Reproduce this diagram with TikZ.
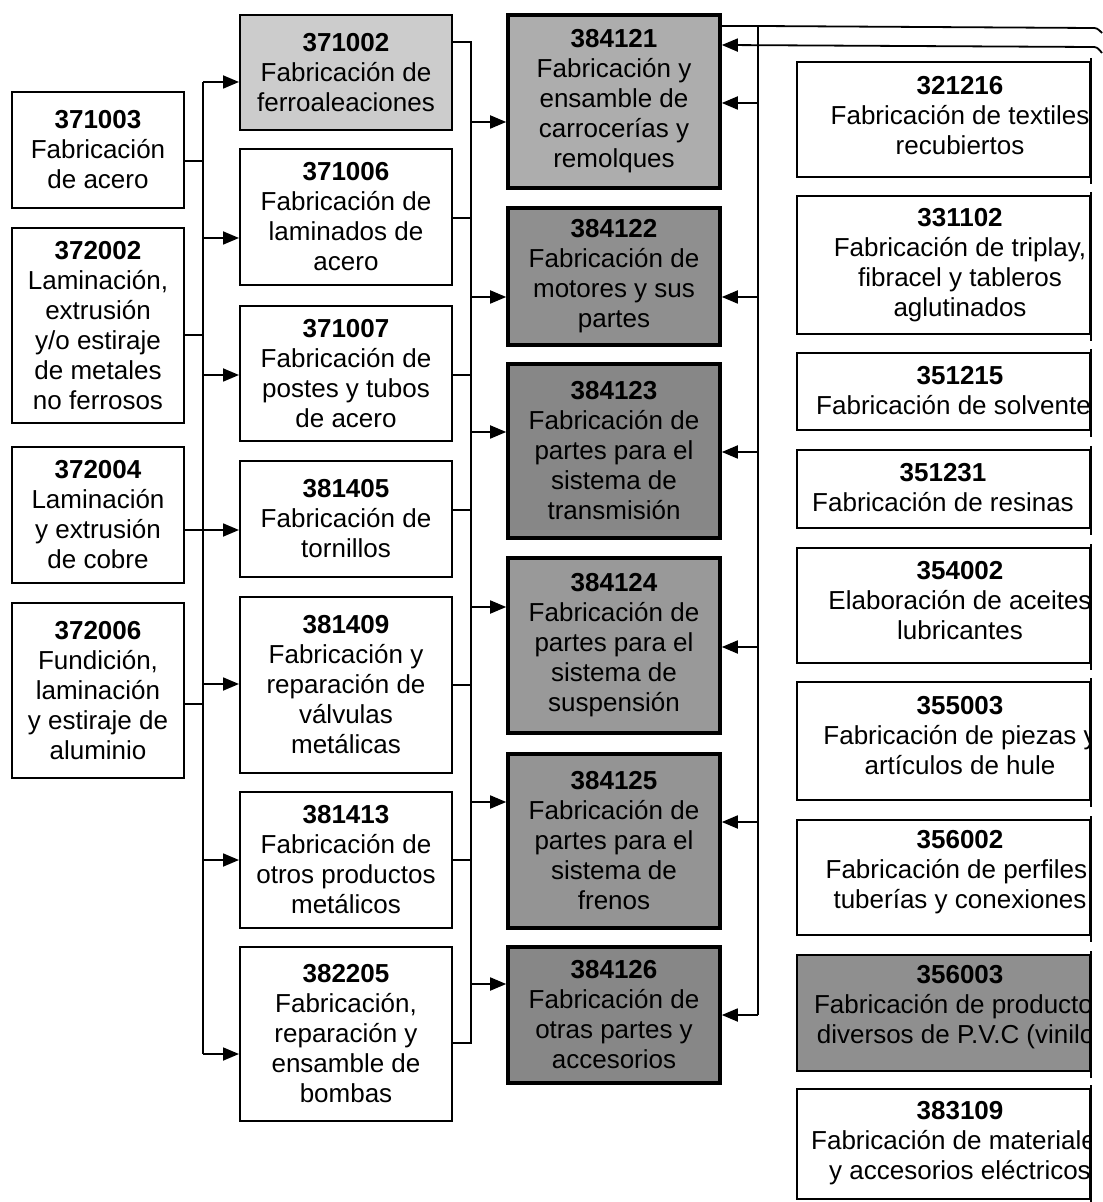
\documentclass[tikz,border=0pt]{standalone}
\usepackage{fontspec}
\setmainfont{Liberation Sans}
\usetikzlibrary{arrows.meta}
\definecolor{g0}{gray}{0.80}
\definecolor{g1}{gray}{0.68}
\definecolor{g2}{gray}{0.56}
\definecolor{g3}{gray}{0.53}
\definecolor{g4}{gray}{0.60}
\definecolor{g5}{gray}{0.58}
\definecolor{g6}{gray}{0.53}
\definecolor{g7}{gray}{0.56}
\newcommand\bx[7]{%
  \node[#6, minimum width={(#4-#2)*0.5pt}, minimum height={(#5-#3)*0.5pt}]
    (#1) at ({(#2+#4)/2},{(#3+#5)/2}) {#7};}
\begin{document}
\begin{tikzpicture}[x=0.5pt,y=-0.5pt,
  txt/.style={align=center, inner sep=0pt, font=\fontsize{13}{15}\selectfont},
  box/.style={txt, draw=black, line width=1pt},
  dbox/.style={box, line width=1.8pt},
  ebox/.style={draw=black, line width=1pt, inner sep=0pt},
  con/.style={line width=0.9pt},
  arr/.style={con, -{Triangle[length=8pt,width=6.5pt]}},
  redge/.style={line width=1.3pt}]
\useasboundingbox (0,0) rectangle (1102,1202);
\fill[white] (0,0) rectangle (1102,1202);

% column 1
\bx{a1}{12}{92}{184}{208}{box}{\textbf{371003}\\Fabricación\\de acero}
\bx{a2}{12}{228}{184}{423}{box}{\textbf{372002}\\Laminación,\\extrusión\\y/o estiraje\\de metales\\no ferrosos}
\bx{a3}{12}{447}{184}{583}{box}{\textbf{372004}\\Laminación\\y extrusión\\de cobre}
\bx{a4}{12}{603}{184}{778}{box}{\textbf{372006}\\Fundición,\\laminación\\y estiraje de\\aluminio}

% column 2
\bx{b1}{240}{15}{452}{130}{box,fill=g0}{\textbf{371002}\\Fabricación de\\ferroaleaciones}
\bx{b2}{240}{149}{452}{285}{box}{\textbf{371006}\\Fabricación de\\laminados de\\acero}
\bx{b3}{240}{306}{452}{441}{box}{\textbf{371007}\\Fabricación de\\postes y tubos\\de acero}
\bx{b4}{240}{461}{452}{577}{box}{\textbf{381405}\\Fabricación de\\tornillos}
\bx{b5}{240}{597}{452}{773}{box}{\textbf{381409}\\Fabricación y\\reparación de\\válvulas\\metálicas}
\bx{b6}{240}{792}{452}{928}{box}{\textbf{381413}\\Fabricación de\\otros productos\\metálicos}
\bx{b7}{240}{947}{452}{1121}{box}{\textbf{382205}\\Fabricación,\\reparación y\\ensamble de\\bombas}

% column 3
\bx{c1}{508}{15}{720}{188}{dbox,fill=g1}{\textbf{384121}\\Fabricación y\\ensamble de\\carrocerías y\\remolques}
\bx{c2}{508}{208}{720}{345}{dbox,fill=g2}{\textbf{384122}\\Fabricación de\\motores y sus\\partes}
\bx{c3}{508}{364}{720}{538}{dbox,fill=g3}{\textbf{384123}\\Fabricación de\\partes para el\\sistema de\\transmisión}
\bx{c4}{508}{558}{720}{733}{dbox,fill=g4}{\textbf{384124}\\Fabricación de\\partes para el\\sistema de\\suspensión}
\bx{c5}{508}{754}{720}{928}{dbox,fill=g5}{\textbf{384125}\\Fabricación de\\partes para el\\sistema de\\frenos}
\bx{c6}{508}{947}{720}{1083}{dbox,fill=g6}{\textbf{384126}\\Fabricación de\\otras partes y\\accesorios}

% column 4 boxes
\bx{d1}{797}{62}{1090}{177}{ebox}{}
\bx{d2}{797}{196}{1090}{334}{ebox}{}
\bx{d3}{797}{353}{1090}{430}{ebox}{}
\bx{d4}{797}{450}{1090}{528}{ebox}{}
\bx{d5}{797}{548}{1090}{663}{ebox}{}
\bx{d6}{797}{682}{1090}{800}{ebox}{}
\bx{d7}{797}{820}{1090}{935}{ebox}{}
\bx{d8}{797}{955}{1090}{1071}{ebox,fill=g7}{}
\bx{d9}{797}{1089}{1090}{1199}{ebox}{}
\begin{scope}
\clip (0,0) rectangle (1090,1202);
\node[txt] (t1) at (960,116) {\textbf{321216}\\Fabricación de textiles\\recubiertos};
\node[txt] (t2) at (960,265) {\textbf{331102}\\Fabricación de triplay,\\fibracel y tableros\\aglutinados};
\node[txt] (t3) at (960,391) {\textbf{351215}\\Fabricación de solventes};
\node[txt] (t4) at (943,488) {\textbf{351231}\\Fabricación de resinas};
\node[txt] (t5) at (960,601) {\textbf{354002}\\Elaboración de aceites\\lubricantes};
\node[txt] (t6) at (960,736) {\textbf{355003}\\Fabricación de piezas y\\artículos de hule};
\node[txt] (t7) at (960,872) {\textbf{356002}\\Fabricación de perfiles,\\tuberías y conexiones};
\node[txt] (t8) at (960,1007) {\textbf{356003}\\Fabricación de productos\\diversos de P.V.C (vinilo)};
\node[txt] (t9) at (960,1143) {\textbf{383109}\\Fabricación de materiales\\y accesorios eléctricos};
\end{scope}
\foreach \n in {d1,d2,d3,d4,d5,d6,d7,d8,d9}
  \draw[redge] ([yshift=1.5pt]\n.north east) -- ([yshift=-3pt]\n.south east);

% bus 1
\coordinate (p1t) at (203,82);
\coordinate (p1b) at (203,1054);
\draw[con] (p1t) -- (p1b);
\draw[con] (a1.east |- 0,161) -- (p1t |- 0,161);
\draw[con] (a2.east |- 0,335) -- (p1t |- 0,335);
\draw[con] (a3.east |- 0,530) -- (p1t |- 0,530);
\draw[con] (a4.east |- 0,704) -- (p1t |- 0,704);
\draw[arr] (p1t) -- (b1.west |- p1t);
\draw[arr] (p1t |- 0,238) -- (b2.west |- 0,238);
\draw[arr] (p1t |- 0,375) -- (b3.west |- 0,375);
\draw[arr] (p1t |- 0,530) -- (b4.west |- 0,530);
\draw[arr] (p1t |- 0,684) -- (b5.west |- 0,684);
\draw[arr] (p1t |- 0,860) -- (b6.west |- 0,860);
\draw[arr] (p1b) -- (b7.west |- p1b);

% bus 2
\coordinate (p2t) at (471,42);
\coordinate (p2b) at (471,1043);
\draw[con] (b1.east |- p2t) -- (p2t) -- (p2b) -- (b7.east |- p2b);
\draw[con] (b2.east |- 0,218) -- (p2t |- 0,218);
\draw[con] (b3.east |- 0,375) -- (p2t |- 0,375);
\draw[con] (b4.east |- 0,510) -- (p2t |- 0,510);
\draw[con] (b5.east |- 0,685) -- (p2t |- 0,685);
\draw[con] (b6.east |- 0,860) -- (p2t |- 0,860);
\draw[arr] (p2t |- 0,122) -- (c1.west |- 0,122);
\draw[arr] (p2t |- 0,297) -- (c2.west |- 0,297);
\draw[arr] (p2t |- 0,432) -- (c3.west |- 0,432);
\draw[arr] (p2t |- 0,607) -- (c4.west |- 0,607);
\draw[arr] (p2t |- 0,802) -- (c5.west |- 0,802);
\draw[arr] (p2t |- 0,984) -- (c6.west |- 0,984);

% bus 3 and the two outgoing lines
\coordinate (p3t) at (758,26);
\coordinate (p3b) at (758,1015);
\coordinate (o1) at (1102,33);
\coordinate (o2) at (1102,53);
\draw[con] (c1.east |- p3t) -- (p3t) -- (1091,28) .. controls (1097,28) .. (o1);
\draw[arr] (o2) .. controls (1097,47) .. (1091,47) -- (c1.east |- 0,45);
\draw[con] (p3t) -- (p3b);
\draw[arr] (p3t |- 0,103) -- (c1.east |- 0,103);
\draw[arr] (p3t |- 0,297) -- (c2.east |- 0,297);
\draw[arr] (p3t |- 0,452) -- (c3.east |- 0,452);
\draw[arr] (p3t |- 0,647) -- (c4.east |- 0,647);
\draw[arr] (p3t |- 0,822) -- (c5.east |- 0,822);
\draw[arr] (p3b) -- (c6.east |- p3b);
\end{tikzpicture}
\end{document}
